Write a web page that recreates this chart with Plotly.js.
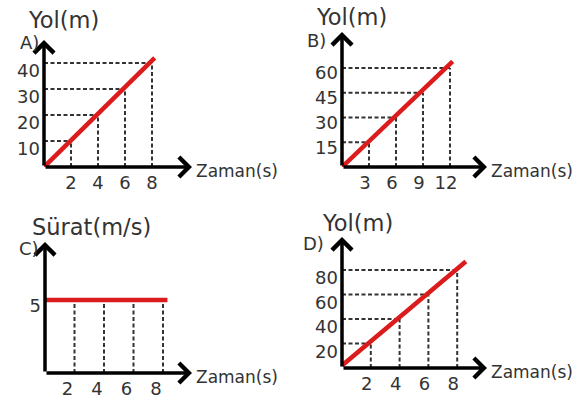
<!DOCTYPE html>
<html>
<head>
<meta charset="utf-8">
<script src="https://cdn.plot.ly/plotly-3.0.1.min.js"></script>
<style>
  body { margin: 0; background: #fff; }
  #chart { width: 578px; height: 405px; }
</style>
</head>
<body>
<div id="chart"></div>
<script>
// A) Yol(m) - Zaman(s)
let ticksAx = [2, 4, 6, 8];
let ticksAy = [10, 20, 30, 40];
let redAx = [0, 8.2];
let redAy = [0, 42];

// B) Yol(m) - Zaman(s)
let ticksBx = [3, 6, 9, 12];
let ticksBy = [15, 30, 45, 60];
let redBx = [0, 12.3];
let redBy = [0, 64];

// C) Sürat(m/s) - Zaman(s)
let ticksCx = [2, 4, 6, 8];
let ticksCy = [5];
let redCx = [0, 8.3];
let redCy = [5, 5];

// D) Yol(m) - Zaman(s)
let ticksDx = [2, 4, 6, 8];
let ticksDy = [20, 40, 60, 80];
let redDx = [0, 8.6];
let redDy = [2, 87];

const W = 578, H = 405;
const FONT = 'DejaVu Sans';
const TXT = '#333';

// panel geometry in pixels: origin, arrow tips, px per unit, text spots
let panels = [
    {id: '', letter: 'A)', ytitle: 'Yol(m)', ox: 44, oy: 167, tipX: 192, tipY: 40, ux: 13.5, uy: 2.6,
     titleX: 63, titleY: 20, letterX: 41, letterY: 42, xshift: 0, yshift: 8,
     tx: ticksAx, ty: ticksAy, rx: redAx, ry: redAy, guides: 'both'},
    {id: '2', letter: 'B)', ytitle: 'Yol(m)', ox: 342, oy: 167, tipX: 487, tipY: 32, ux: 9.0, uy: 1.65,
     titleX: 351, titleY: 17, letterX: 328, letterY: 40, xshift: -4, yshift: 5,
     tx: ticksBx, ty: ticksBy, rx: redBx, ry: redBy, guides: 'both'},
    {id: '3', letter: 'C)', ytitle: 'Sürat(m/s)', ox: 45, oy: 373, tipX: 192, tipY: 242, ux: 14.75, uy: 14.6,
     titleX: 91, titleY: 227, letterX: 41, letterY: 248, xshift: -7, yshift: 6,
     tx: ticksCx, ty: ticksCy, rx: redCx, ry: redCy, guides: 'vertical'},
    {id: '4', letter: 'D)', ytitle: 'Yol(m)', ox: 342, oy: 368, tipX: 487, tipY: 237, ux: 14.4, uy: 1.225,
     titleX: 357, titleY: 223, letterX: 326, letterY: 243, xshift: -4, yshift: 8,
     tx: ticksDx, ty: ticksDy, rx: redDx, ry: redDy, guides: 'both'}
];

let data = [];
let layout = {
    width: W,
    height: H,
    margin: {l: 0, r: 0, t: 0, b: 0},
    paper_bgcolor: '#fff',
    plot_bgcolor: 'rgba(0,0,0,0)',
    showlegend: false,
    font: {family: FONT, color: TXT},
    annotations: []
};

for (let i = 0; i < panels.length; i++) {
    let p = panels[i];
    let xa = 'x' + p.id, ya = 'y' + p.id;

    // dashed guide lines
    let gx = [], gy = [];
    for (let j = 0; j < p.tx.length; j++) {
        let yv = p.guides == 'vertical' ? p.ty[0] : p.ty[j];
        gx.push(p.tx[j], p.tx[j], null);
        gy.push(0, yv, null);
        if (p.guides == 'both') {
            gx.push(0, p.tx[j], null);
            gy.push(yv, yv, null);
        }
    }
    data.push({
        x: gx, y: gy, xaxis: xa, yaxis: ya,
        type: 'scatter', mode: 'lines', hoverinfo: 'skip',
        line: {color: '#333', width: 2, dash: '4px,2.5px'}
    });

    // red line
    data.push({
        x: p.rx, y: p.ry, xaxis: xa, yaxis: ya,
        type: 'scatter', mode: 'lines', cliponaxis: false,
        line: {color: '#dc1c1c', width: 4.5}
    });

    let xr = (p.tipX - p.ox) / p.ux;
    let yr = (p.oy - p.tipY) / p.uy;

    layout['xaxis' + p.id] = {
        domain: [p.ox / W, p.tipX / W],
        anchor: ya,
        range: [0, xr],
        tickvals: p.tx,
        showgrid: false, zeroline: false, showline: false, ticks: '',
        ticklabelstandoff: 3, ticklabelshift: p.xshift,
        tickfont: {family: FONT, size: 18, color: TXT},
        fixedrange: true
    };
    layout['yaxis' + p.id] = {
        domain: [1 - p.oy / H, 1 - p.tipY / H],
        anchor: xa,
        range: [0, yr],
        tickvals: p.ty,
        showgrid: false, zeroline: false, showline: false, ticks: '',
        ticklabelstandoff: 3, ticklabelshift: p.yshift,
        tickfont: {family: FONT, size: 18, color: TXT},
        fixedrange: true
    };

    // axes with arrow heads
    layout.annotations.push({
        xref: xa, yref: ya, axref: xa, ayref: ya,
        x: xr, y: 0, ax: 0, ay: 0, text: '',
        showarrow: true, arrowhead: 4, arrowsize: 1.1, arrowwidth: 3.5, arrowcolor: '#000', standoff: 0
    });
    layout.annotations.push({
        xref: xa, yref: ya, axref: xa, ayref: ya,
        x: 0, y: yr, ax: 0, ay: 0, text: '',
        showarrow: true, arrowhead: 4, arrowsize: 1.1, arrowwidth: 3.5, arrowcolor: '#000', standoff: 0
    });

    // texts
    layout.annotations.push({
        xref: 'paper', yref: 'paper',
        x: p.titleX / W, y: 1 - p.titleY / H,
        text: p.ytitle, showarrow: false, xanchor: 'center', yanchor: 'middle',
        font: {family: FONT, size: 22.5, color: TXT}
    });
    layout.annotations.push({
        xref: 'paper', yref: 'paper',
        x: p.letterX / W, y: 1 - p.letterY / H,
        text: p.letter, showarrow: false, xanchor: 'right', yanchor: 'middle',
        font: {family: FONT, size: 18, color: TXT}
    });
    layout.annotations.push({
        xref: 'paper', yref: 'paper',
        x: (p.tipX + 2) / W, y: 1 - (p.oy + 4) / H,
        text: 'Zaman(s)', showarrow: false, xanchor: 'left', yanchor: 'middle',
        font: {family: FONT, size: 17, color: TXT}
    });
}

Plotly.newPlot('chart', data, layout, {displayModeBar: false, staticPlot: true});
</script>
</body>
</html>
